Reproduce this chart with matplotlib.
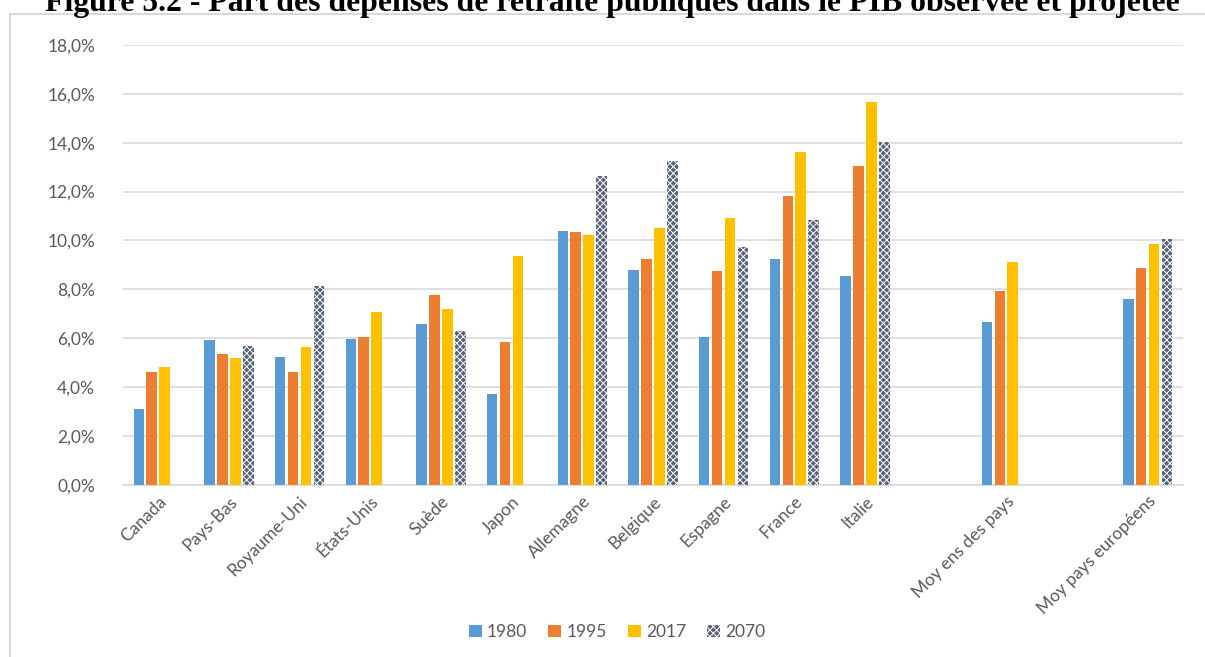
import numpy as np
import matplotlib.pyplot as plt
from matplotlib.patches import Rectangle
from matplotlib.ticker import FuncFormatter

plt.rcParams["font.family"] = ["Lato", "DejaVu Sans"]
plt.rcParams["hatch.color"] = "white"
plt.rcParams["hatch.linewidth"] = 0.7

# Empty strings leave a blank slot before each average group
categories = ["Canada", "Pays-Bas", "Royaume-Uni", "États-Unis", "Suède", "Japon",
              "Allemagne", "Belgique", "Espagne", "France", "Italie", "",
              "Moy ens des pays", "", "Moy pays européens"]
nan = np.nan
v1980 = [3.10, 5.92, 5.25, 5.97, 6.59, 3.72, 10.38, 8.80, 6.06, 9.25, 8.54, nan, 6.68, nan, 7.60]
v1995 = [4.61, 5.35, 4.62, 6.04, 7.77, 5.86, 10.34, 9.23, 8.76, 11.81, 13.05, nan, 7.94, nan, 8.87]
v2017 = [4.81, 5.18, 5.63, 7.08, 7.19, 9.37, 10.21, 10.52, 10.92, 13.64, 15.66, nan, 9.10, nan, 9.86]
v2070 = [nan, 5.69, 8.15, nan, 6.31, nan, 12.63, 13.26, 9.74, 10.83, 14.03, nan, nan, nan, 10.08]

series = [("1980", v1980, "#5B9BD5", None),
          ("1995", v1995, "#ED7D31", None),
          ("2017", v2017, "#FFC000", None),
          ("2070", v2070, "#56627A", "xxxxx")]

GREY = "#595959"
FS = 12.5

fig = plt.figure(figsize=(12.05, 6.57), dpi=100)
ax = fig.add_axes([0.102, 0.262, 0.8797, 0.6695])

x = np.arange(len(categories))
width = 0.15
step = 0.183
for i, (label, vals, color, hatch) in enumerate(series):
    offs = (i - 1.5) * step
    if hatch:
        ax.bar(x + offs, vals, width, color=color, hatch=hatch, edgecolor="white",
               linewidth=0, label=label, zorder=3)
    else:
        ax.bar(x + offs, vals, width, color=color, label=label, zorder=3)

ax.set_xlim(-0.5, len(categories) - 0.5)
ax.set_ylim(0, 18)
ax.set_yticks(np.arange(0, 19, 2))
ax.yaxis.set_major_formatter(FuncFormatter(lambda v, p: f"{v:.1f}%".replace(".", ",")))
ax.grid(axis="y", color="#D9D9D9", linewidth=1.2, zorder=0)
ax.set_axisbelow(True)
for s in ["top", "right", "left"]:
    ax.spines[s].set_visible(False)
ax.spines["bottom"].set_color("#D9D9D9")
ax.spines["bottom"].set_linewidth(1.2)

ax.set_xticks(x)
ax.set_xticklabels(categories, rotation=45, ha="right", va="top", rotation_mode="anchor")
ax.tick_params(axis="x", length=0, pad=6, labelsize=FS, labelcolor=GREY)
ax.tick_params(axis="y", length=0, pad=20, labelsize=FS, labelcolor=GREY)

leg = fig.legend(loc="center", bbox_to_anchor=(0.512, 0.038), ncol=4, frameon=False,
                 fontsize=FS, handlelength=0.75, handleheight=0.75, handletextpad=0.3,
                 columnspacing=1.2)
for t in leg.get_texts():
    t.set_color(GREY)

# chart frame, running past the right and bottom edges
fig.patches.append(Rectangle((10 / 1205, -0.05), 1.05, 1.05 - 14 / 657,
                             transform=fig.transFigure, fill=False,
                             edgecolor="#D9D9D9", linewidth=1.5))

fig.text(0.508, 1 - 11 / 657,
         "Figure 5.2 - Part des dépenses de retraite publiques dans le PIB observée et projetée",
         ha="center", va="baseline", fontsize=22.9, fontweight="bold",
         family=["Liberation Serif", "DejaVu Serif"])

fig.savefig("out.png", dpi=100)
